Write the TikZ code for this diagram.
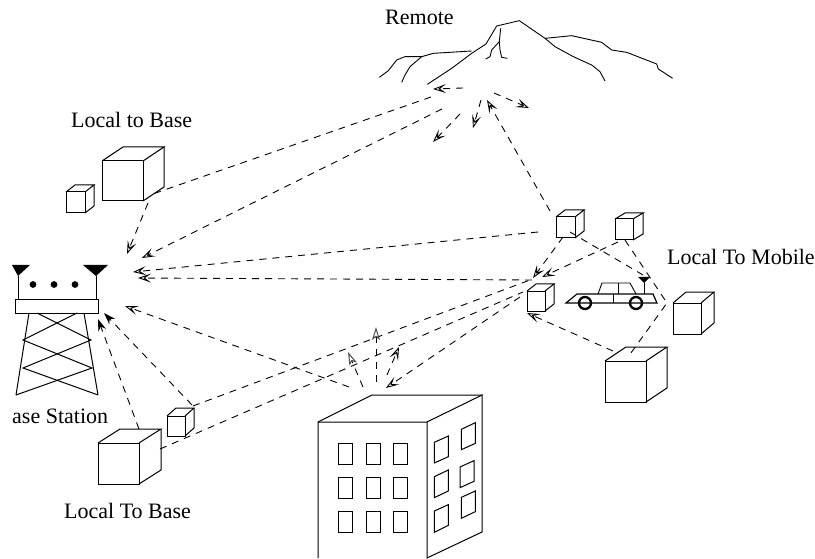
\documentclass[tikz,border=0pt]{standalone}
\usepackage{fontspec}
\setmainfont{Liberation Serif}
\usetikzlibrary{arrows.meta}
\tikzset{
  sketch/.style={line width=1pt,line join=miter},
  lab/.style={font=\fontsize{22}{24}\selectfont,inner sep=0pt,anchor=base west},
  ray/.style={line width=0.9pt,dash pattern=on 7pt off 6pt},
  oray/.style={ray,-{Stealth[open,length=13pt,width=9pt,inset=6pt,line width=0.9pt]}},
  fray/.style={ray,-{Stealth[length=12pt,width=8pt,inset=4pt]}},
  hray/.style={ray,-{Stealth[open,length=13pt,width=8pt,inset=3pt,line width=1pt,black!70]}},
}
% front face x1 y1 x2 y2, depth dx dy
\newcommand{\boxthreed}[6]{%
  \draw[sketch] (#1,#2) rectangle (#3,#4);
  \draw[sketch] (#1,#2) -- ++(#5,#6) -- (#3+#5,#2+#6) -- (#3,#2);
  \draw[sketch] (#3+#5,#2+#6) -- (#3+#5,#4+#6) -- (#3,#4);
}
\newcommand{\linkray}[4][oray]{%
  \coordinate (#2s) at (#3);
  \coordinate (#2e) at (#4);
  \draw[#1] (#2s) -- (#2e);
}
\begin{document}
\begin{tikzpicture}[x=1pt,y=-1pt]
\useasboundingbox (0,0) rectangle (815,559);
\fill[white] (0,0) rectangle (815,559);

% labels
\node[lab] (remote) at (385,25) {Remote};
\node[lab] (ltb) at (71,128) {Local to Base};
\node[lab] (ltm) at (667,265) {Local To Mobile};
\node[lab] (bs) at (12,423) {ase Station};
\node[lab] (ltb2) at (64,518) {Local To Base};

% mountain
\begin{scope}[shift={(370,0)},scale=1/3,line width=0.9pt,line join=round]
\draw (172,253) -- (245,205) -- (305,160) -- (348,132) -- (380,78) -- (448,62) -- (525,115) -- (555,140) -- (610,170) -- (665,195) -- (690,215) -- (705,243);
\draw (525,115) -- (605,107) -- (695,127) -- (725,150) -- (770,157) -- (860,192) -- (865,207) -- (908,235);
\draw (28,232) -- (55,212) -- (80,180) -- (105,170) -- (155,170) -- (190,160) -- (305,153);
\draw (155,170) -- (120,200) -- (105,225) -- (95,247);
\draw (392,85) -- (388,125) -- (365,150) -- (360,170) -- (347,177);
\draw (388,125) -- (390,150) -- (395,172) -- (412,175);
\end{scope}

% tower
\draw[sketch] (15,299) rectangle (98,313);
\fill (12,265) -- (30,265) -- (18,276) -- cycle;
\fill (83,265) -- (108,265) -- (96,276) -- cycle;
\draw[sketch] (18,276) -- (18,299);
\draw[sketch] (96,276) -- (96,299);
\fill (33,284.5) circle[radius=3.4] (54,284.5) circle[radius=3.4] (75,284.5) circle[radius=3.4];
\draw[sketch] (29,313) -- (16,395);
\draw[sketch] (84,313) -- (98,395);
\draw[sketch] (37,313) -- (91,340) -- (23,368) -- (98,395);
\draw[sketch] (77,313) -- (23,340) -- (92,368) -- (16,395);

% cubes
\boxthreed{98}{443}{139}{484}{22}{-14}
\boxthreed{167}{416}{185}{436}{9}{-8}
\boxthreed{102}{161}{143}{201}{21}{-14}
\boxthreed{66}{192}{85}{213}{9}{-7}
\boxthreed{556}{217}{575}{238}{9}{-7}
\boxthreed{615}{219}{633}{240}{10}{-6}
\boxthreed{527}{291}{545}{311}{9}{-7}
\boxthreed{673}{303}{701}{334}{13}{-11}
\boxthreed{605}{361}{646}{402}{21}{-14}

% car
\begin{scope}[line width=1.2pt,line join=miter]
\draw (566,303) -- (657,303) -- (653,294) -- (577,294) -- cycle;
\draw[line width=0.9pt] (598,294) -- (602,283) -- (630,283) -- (636,294);
\draw[line width=0.9pt] (618,283) -- (618,294);
\draw[line width=0.9pt] (613,294) -- (613,303);
\draw[line width=2.3pt] (585,303) circle[radius=6];
\draw[line width=2.3pt] (636,303) circle[radius=6];
\fill (638,277) -- (650,277) -- (644,283) -- cycle;
\draw[line width=0.9pt] (644,283) -- (644,294);
\end{scope}

% building
\draw[sketch] (318,558) -- (318,422) -- (427,422) -- (427,558) -- (482,532) -- (482,395) -- (427,422);
\draw[sketch] (318,422) -- (372,395) -- (482,395);
\foreach \wx in {338,366,393}
  \foreach \wy in {443,477,511}
    \draw[sketch] (\wx,\wy) rectangle (\wx+14.5,\wy+21);
\begin{scope}[shift={(300,340)},scale=1/3,line width=1pt]
\draw (403,307) -- (445,288) -- (445,350) -- (403,369) -- cycle;
\draw (403,410) -- (445,390) -- (445,453) -- (403,473) -- cycle;
\draw (403,513) -- (445,494) -- (445,556) -- (403,577) -- cycle;
\draw (484,268) -- (526,248) -- (526,310) -- (484,329) -- cycle;
\draw (480,381) -- (522,362) -- (522,424) -- (480,443) -- cycle;
\draw (484,472) -- (526,453) -- (526,515) -- (484,535) -- cycle;
\end{scope}

% rays at the mountain
\linkray{ra}{463,88}{433,89}
\linkray{rb}{494,93}{529,108}
\linkray{rc}{481,100}{473,128}
\linkray{rd}{460,114}{433,142}
\linkray{re}{550,211}{487,100}
\linkray[ray]{rf}{431,97}{150,195}
\linkray{rg}{442,109}{142,258}
\linkray{rh}{148,203}{127,254}

% rays at the base station
\linkray{sa}{538,232}{133,272}
\linkray{sb}{532,280}{138,278}
\linkray{sc}{349,387}{125,306}
\linkray[fray]{sd}{192,405}{104,313}
\linkray[fray]{se}{139,429}{98,319}
\linkray[ray]{sf}{193,406}{530,280}
\linkray[ray]{sg}{160,449}{523,292}

% rays at the building
\linkray[hray]{ta}{363,387}{348,352}
\linkray[hray]{tb}{376,382}{376,327}
\linkray{tc}{387,375}{399,347}
\linkray{td}{520,297}{386,388}

% rays near the car
\linkray{ua}{563,237}{533,278}
\linkray{ub}{618,242}{542,277}
\linkray[ray]{uc}{570,232}{643,275}
\coordinate (ud) at (625,240);
\coordinate (ue) at (667,303);
\coordinate (uf) at (628,357);
\draw[ray] (ud) -- (ue) -- (uf);
\linkray{ug}{613,351}{527,313}
\end{tikzpicture}
\end{document}
